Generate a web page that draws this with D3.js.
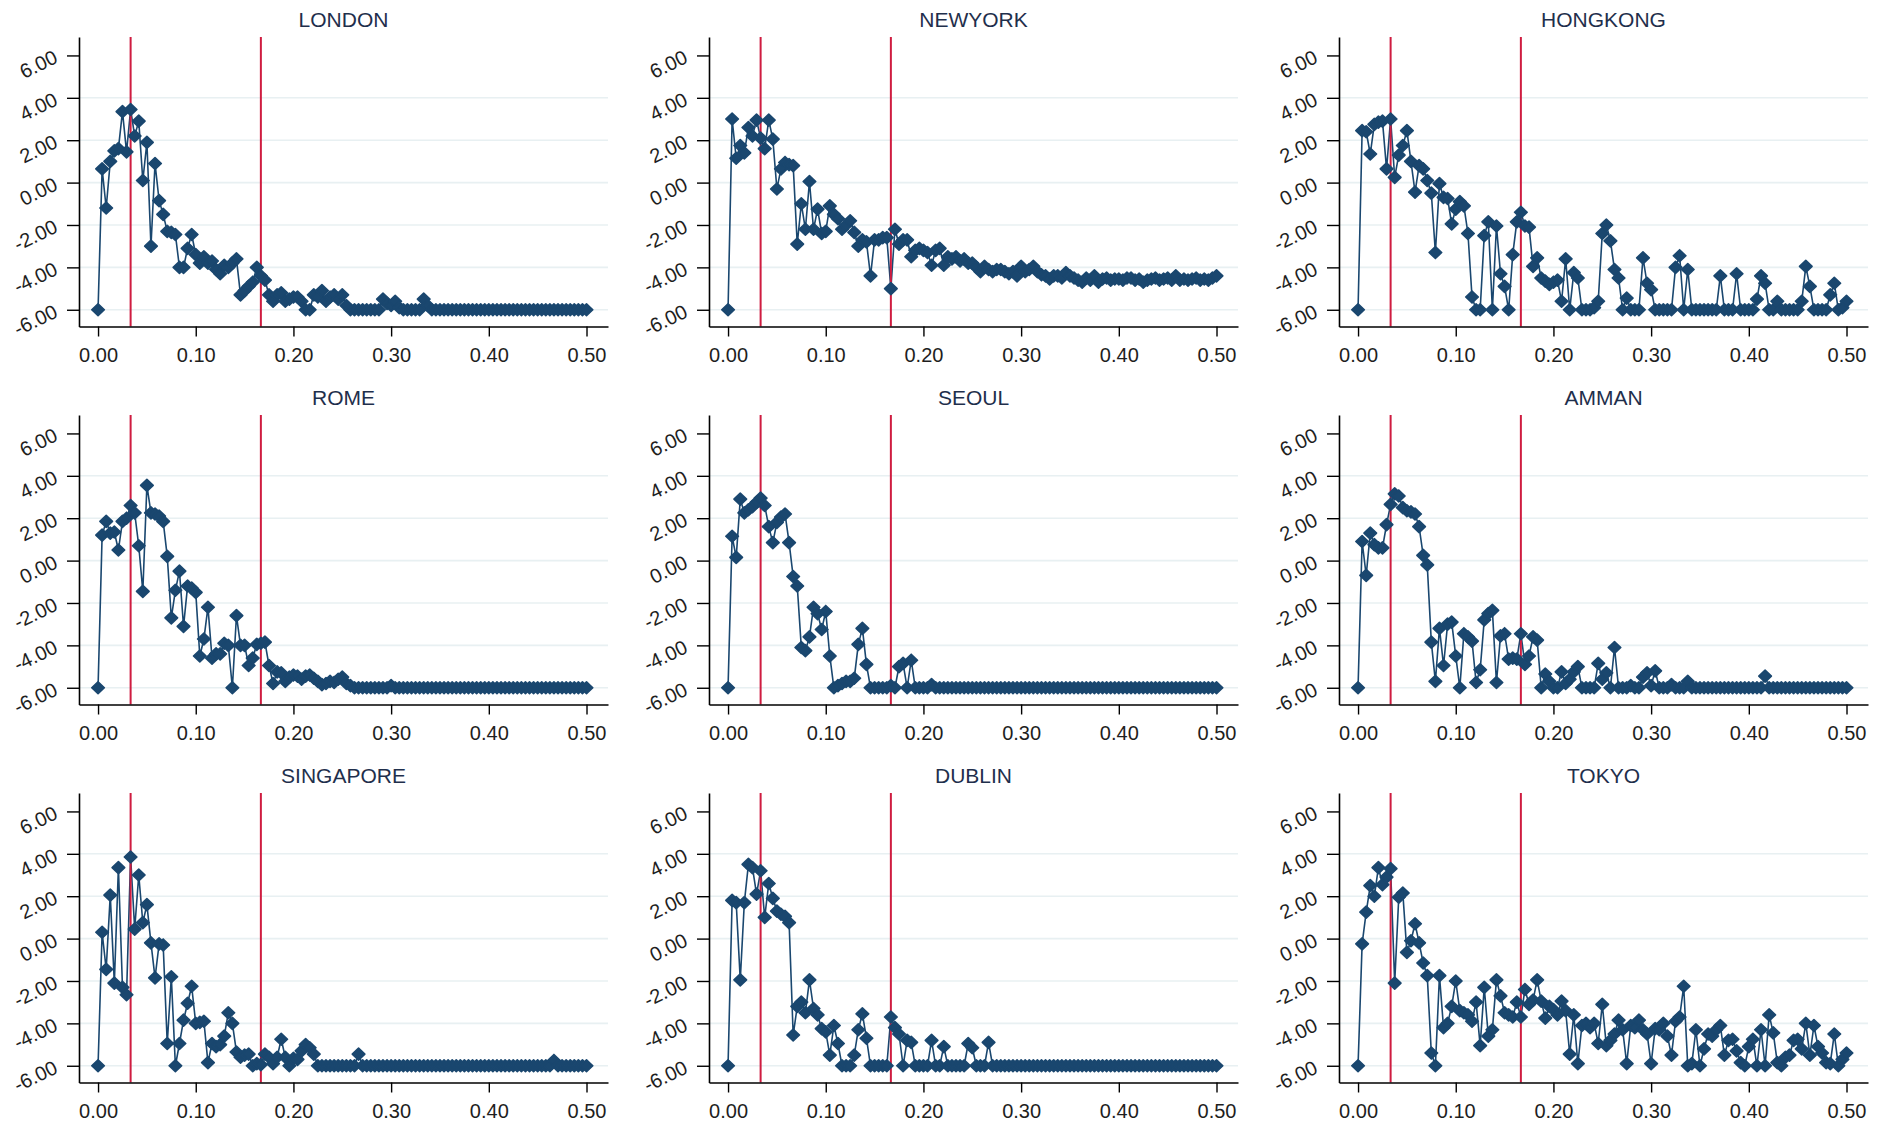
<!DOCTYPE html>
<html>
<head>
<meta charset="utf-8">
<script src="https://cdn.jsdelivr.net/npm/d3@7"></script>
<style>
body { margin: 0; background: #fff; }
svg { display: block; font-family: "Liberation Sans", Arial, sans-serif; }
</style>
</head>
<body>
<svg id="chart" width="1888" height="1124"></svg>
<script>
// frequencies k/240, k = 0..120
var freq = d3.range(121).map(k => k / 240);

var cities = ['LONDON', 'NEWYORK', 'HONGKONG', 'ROME', 'SEOUL', 'AMMAN', 'SINGAPORE', 'DUBLIN', 'TOKYO'];

var london = [-6, 0.65, -1.2, 1.0, 1.5, 1.6, 3.35, 1.45, 3.45, 2.2,
  2.9, 0.1, 1.9, -3.0, 0.9, -0.85, -1.5, -2.3, -2.35, -2.45,
  -4.0, -4.0, -3.1, -2.45, -3.4, -3.8, -3.5, -3.8, -3.7, -4.1,
  -4.3, -3.9, -4.0, -3.8, -3.6, -5.3, -5.1, -4.9, -4.7, -4.0,
  -4.4, -4.6, -5.3, -5.6, -5.3, -5.2, -5.6, -5.5, -5.4, -5.4,
  -5.6, -6, -6, -5.3, -5.4, -5.1, -5.6, -5.4, -5.3, -5.5,
  -5.3, -5.8, -6, -6, -6, -6, -6, -6, -6, -6,
  -5.5, -5.7, -5.8, -5.6, -5.9, -6, -6, -6, -6, -6,
  -5.5, -5.8, -6, -6, -6, -6, -6, -6, -6, -6,
  -6, -6, -6, -6, -6, -6, -6, -6, -6, -6,
  -6, -6, -6, -6, -6, -6, -6, -6, -6, -6,
  -6, -6, -6, -6, -6, -6, -6, -6, -6, -6, -6];

var newyork = [-6, 3.0, 1.15, 1.75, 1.4, 2.6, 2.2, 2.95, 2.1, 1.6,
  2.95, 2.05, -0.3, 0.65, 0.95, 0.85, 0.8, -2.9, -1.0, -2.2,
  0.05, -2.2, -1.25, -2.4, -2.3, -1.1, -1.5, -1.7, -2.2, -2.0,
  -1.8, -2.35, -3.0, -2.7, -2.8, -4.4, -2.7, -2.7, -2.6, -2.6,
  -5.0, -2.2, -2.9, -2.7, -2.7, -3.5, -3.2, -3.1, -3.2, -3.3,
  -3.9, -3.2, -3.1, -3.9, -3.5, -3.6, -3.5, -3.7, -3.6, -3.8,
  -3.8, -4.0, -4.2, -3.95, -4.1, -4.2, -4.1, -4.1, -4.2, -4.3,
  -4.2, -4.4, -3.95, -4.2, -4.1, -3.95, -4.2, -4.35, -4.4, -4.55,
  -4.4, -4.4, -4.5, -4.25, -4.4, -4.5, -4.6, -4.7, -4.5, -4.6,
  -4.4, -4.7, -4.55, -4.5, -4.6, -4.55, -4.55, -4.6, -4.5, -4.5,
  -4.6, -4.55, -4.7, -4.6, -4.55, -4.5, -4.6, -4.55, -4.5, -4.6,
  -4.4, -4.6, -4.55, -4.6, -4.55, -4.5, -4.6, -4.55, -4.6, -4.5, -4.4];

var hongkong = [-6, 2.45, 2.4, 1.35, 2.75, 2.85, 2.9, 0.65, 3.0, 0.25,
  1.3, 1.75, 2.45, 1.0, -0.45, 0.8, 0.65, 0.1, -0.5, -3.3,
  -0.05, -0.7, -0.75, -1.95, -1.25, -0.9, -1.1, -2.4, -5.4, -6,
  -6, -2.5, -1.85, -6, -2.05, -4.3, -4.9, -6, -3.4, -1.85,
  -1.4, -2.05, -2.1, -3.95, -3.55, -4.5, -4.65, -4.8, -4.7, -4.6,
  -5.6, -3.6, -6, -4.25, -4.5, -6, -6, -6, -5.9, -5.6,
  -2.4, -2.0, -2.75, -4.1, -4.5, -6, -5.45, -6, -6, -6,
  -3.55, -4.75, -5.05, -6, -6, -6, -6, -6, -4.0, -3.45,
  -6, -4.1, -6, -6, -6, -6, -6, -6, -6, -4.4,
  -6, -6, -6, -4.3, -6, -6, -6, -6, -5.5, -4.4,
  -4.75, -6, -6, -5.6, -6, -6, -6, -6, -6, -5.6,
  -3.95, -4.9, -6, -6, -6, -6, -5.3, -4.75, -6, -5.9, -5.6];

var rome = [-6, 1.2, 1.85, 1.3, 1.35, 0.5, 1.85, 2.0, 2.6, 2.25,
  0.7, -1.45, 3.55, 2.25, 2.2, 2.1, 1.85, 0.2, -2.7, -1.4,
  -0.5, -3.1, -1.2, -1.3, -1.5, -4.5, -3.7, -2.2, -4.6, -4.4,
  -4.4, -3.9, -4.0, -6, -2.6, -4.0, -4.0, -4.95, -4.6, -3.95,
  -3.9, -3.85, -4.95, -5.8, -5.25, -5.3, -5.7, -5.5, -5.4, -5.45,
  -5.6, -5.45, -5.4, -5.55, -5.7, -5.85, -5.8, -5.7, -5.75, -5.6,
  -5.5, -5.8, -5.9, -6, -6, -6, -6, -6, -6, -6,
  -6, -6, -5.9, -6, -6, -6, -6, -6, -6, -6,
  -6, -6, -6, -6, -6, -6, -6, -6, -6, -6,
  -6, -6, -6, -6, -6, -6, -6, -6, -6, -6,
  -6, -6, -6, -6, -6, -6, -6, -6, -6, -6,
  -6, -6, -6, -6, -6, -6, -6, -6, -6, -6, -6];

var seoul = [-6, 1.15, 0.15, 2.9, 2.25, 2.4, 2.55, 2.75, 2.95, 2.6,
  1.6, 0.85, 1.8, 2.05, 2.2, 0.85, -0.75, -1.2, -4.1, -4.25,
  -3.6, -2.2, -2.5, -3.25, -2.4, -4.5, -6, -5.9, -5.8, -5.7,
  -5.7, -5.55, -3.95, -3.2, -4.9, -6, -6, -6, -6, -6,
  -5.9, -6, -5.0, -4.85, -6, -4.7, -6, -6, -6, -6,
  -5.85, -6, -6, -6, -6, -6, -6, -6, -6, -6,
  -6, -6, -6, -6, -6, -6, -6, -6, -6, -6,
  -6, -6, -6, -6, -6, -6, -6, -6, -6, -6,
  -6, -6, -6, -6, -6, -6, -6, -6, -6, -6,
  -6, -6, -6, -6, -6, -6, -6, -6, -6, -6,
  -6, -6, -6, -6, -6, -6, -6, -6, -6, -6,
  -6, -6, -6, -6, -6, -6, -6, -6, -6, -6, -6];

var amman = [-6, 0.9, -0.7, 1.3, 0.75, 0.6, 0.6, 1.7, 2.65, 3.15,
  3.05, 2.5, 2.35, 2.3, 2.2, 1.6, 0.25, -0.2, -3.85, -5.7,
  -3.2, -4.95, -3.0, -2.9, -4.5, -6, -3.45, -3.6, -3.8, -5.75,
  -5.15, -2.8, -2.5, -2.35, -5.75, -3.55, -3.45, -4.65, -4.6, -4.65,
  -3.45, -4.9, -4.5, -3.6, -3.75, -6, -5.35, -5.7, -6, -6,
  -5.25, -5.8, -5.6, -5.25, -5.0, -6, -6, -6, -6, -4.85,
  -5.6, -5.3, -6, -4.1, -6, -6, -6, -5.9, -6, -6,
  -5.5, -5.3, -5.9, -5.2, -6, -6, -6, -5.85, -6, -6,
  -6, -5.7, -6, -6, -6, -6, -6, -6, -6, -6,
  -6, -6, -6, -6, -6, -6, -6, -6, -6, -6,
  -5.45, -6, -6, -6, -6, -6, -6, -6, -6, -6,
  -6, -6, -6, -6, -6, -6, -6, -6, -6, -6, -6];

var singapore = [-6, 0.3, -1.45, 2.05, -2.1, 3.35, -2.3, -2.65, 3.85, 0.45,
  3.0, 0.75, 1.6, -0.2, -1.85, -0.25, -0.3, -4.95, -1.8, -6,
  -4.95, -3.85, -3.05, -2.25, -4.0, -3.95, -3.9, -5.85, -4.95, -5.1,
  -5.0, -4.6, -3.5, -4.0, -5.35, -5.6, -5.5, -5.45, -6, -5.9,
  -5.95, -5.45, -5.6, -5.9, -5.6, -4.75, -5.6, -6, -5.65, -5.7,
  -5.3, -5.0, -5.15, -5.45, -6, -6, -6, -6, -6, -6,
  -6, -6, -6, -6, -5.45, -6, -6, -6, -6, -6,
  -6, -6, -6, -6, -6, -6, -6, -6, -6, -6,
  -6, -6, -6, -6, -6, -6, -6, -6, -6, -6,
  -6, -6, -6, -6, -6, -6, -6, -6, -6, -6,
  -6, -6, -6, -6, -6, -6, -6, -6, -6, -6,
  -6, -6, -5.75, -6, -6, -6, -6, -6, -6, -6, -6];

var dublin = [-6, 1.8, 1.7, -1.95, 1.7, 3.5, 3.35, 2.1, 3.2, 1.0,
  2.6, 1.9, 1.3, 1.15, 1.05, 0.75, -4.55, -3.2, -3.0, -3.5,
  -1.95, -3.3, -3.6, -4.25, -4.4, -5.5, -4.1, -4.95, -6, -6,
  -6, -5.5, -4.3, -3.55, -4.7, -6, -6, -6, -6, -6,
  -3.7, -4.2, -4.5, -6, -4.8, -4.9, -6, -6, -6, -6,
  -4.8, -6, -6, -5.1, -6, -6, -6, -6, -6, -4.95,
  -5.15, -6, -6, -6, -4.9, -6, -6, -6, -6, -6,
  -6, -6, -6, -6, -6, -6, -6, -6, -6, -6,
  -6, -6, -6, -6, -6, -6, -6, -6, -6, -6,
  -6, -6, -6, -6, -6, -6, -6, -6, -6, -6,
  -6, -6, -6, -6, -6, -6, -6, -6, -6, -6,
  -6, -6, -6, -6, -6, -6, -6, -6, -6, -6, -6];

var tokyo = [-6, -0.25, 1.25, 2.5, 2.0, 3.35, 2.55, 2.9, 3.3, -2.1,
  1.95, 2.15, -0.65, -0.1, 0.7, -0.2, -1.15, -1.75, -5.4, -6,
  -1.75, -4.2, -4.0, -3.2, -2.0, -3.4, -3.5, -3.6, -3.9, -3.0,
  -5.05, -2.3, -4.6, -4.3, -1.95, -2.7, -3.5, -3.6, -3.7, -3.0,
  -3.7, -2.4, -3.1, -2.9, -1.95, -2.95, -3.75, -3.2, -3.35, -3.6,
  -2.95, -3.4, -5.45, -3.6, -5.9, -4.1, -4.0, -4.2, -4.0, -4.95,
  -3.1, -5.05, -4.8, -4.5, -3.85, -4.3, -5.9, -4.1, -4.2, -3.85,
  -4.3, -4.5, -5.9, -4.25, -4.3, -4.0, -4.6, -5.5, -3.9, -3.7,
  -2.25, -6, -5.9, -4.3, -6, -5.2, -4.5, -4.6, -4.3, -4.1,
  -5.5, -4.8, -4.75, -5.3, -5.85, -6, -5.1, -4.75, -6, -4.3,
  -6, -3.6, -4.45, -5.85, -6, -5.6, -5.5, -4.8, -4.75, -5.2,
  -4.0, -5.5, -4.1, -5.1, -5.4, -5.85, -5.9, -4.5, -6, -5.7, -5.4];

var series = [london, newyork, hongkong, rome, seoul, amman, singapore, dublin, tokyo];

var yTicks = [-6, -4, -2, 0, 2, 4, 6];
var gridVals = [-6, -4, -2, 0, 2, 4];
var xTicks = [0, 0.1, 0.2, 0.3, 0.4, 0.5];
var cycleLines = [1 / 30, 1 / 6];

var navy = '#1a476f';
var svg = d3.select('#chart');
var diamond = 'M0,-6L6.3,0L0,6L-6.3,0Z';

cities.forEach((name, i) => {
  var col = i % 3, row = Math.floor(i / 3);
  var x0 = 98 + 630 * col;
  var top = 37 + 378 * row;
  var bottom = top + 289.5;

  var x = d3.scaleLinear().domain([-0.0195, 0.522]).range([x0 - 19, x0 + 510]);
  var y = d3.scaleLinear().domain([-6.79, 6.87]).range([bottom, top]);
  var left = x.range()[0], right = x.range()[1];
  var vals = series[i];

  var g = svg.append('g');

  // gridlines
  g.selectAll('line.grid').data(gridVals).enter().append('line')
    .attr('x1', left).attr('x2', right)
    .attr('y1', d => y(d)).attr('y2', d => y(d))
    .attr('stroke', '#e8f0f2').attr('stroke-width', 1.6);

  // connecting line
  g.append('path')
    .datum(vals)
    .attr('fill', 'none')
    .attr('stroke', navy)
    .attr('stroke-width', 1.6)
    .attr('d', d3.line().x((d, k) => x(freq[k])).y(d => y(d)));

  // xlines at 30 and 6 periods
  g.selectAll('line.cyc').data(cycleLines).enter().append('line')
    .attr('x1', d => x(d)).attr('x2', d => x(d))
    .attr('y1', top).attr('y2', bottom)
    .attr('stroke', '#cf1c40').attr('stroke-width', 2);

  // markers
  g.selectAll('path.pt').data(vals).enter().append('path')
    .attr('d', diamond)
    .attr('transform', (d, k) => 'translate(' + x(freq[k]) + ',' + y(d) + ')')
    .attr('fill', navy)
    .attr('stroke', navy)
    .attr('stroke-width', 1.6)
    .attr('stroke-linejoin', 'round');

  // y axis
  var ya = g.append('g')
    .attr('transform', 'translate(' + left + ',0)')
    .call(d3.axisLeft(y).tickValues(yTicks).tickSize(12).tickSizeOuter(0)
      .tickFormat(d => d.toFixed(2)));
  ya.select('.domain').attr('stroke-width', 1.6);
  ya.selectAll('.tick line').attr('stroke-width', 1.4);
  ya.selectAll('.tick text')
    .attr('font-size', 20).attr('font-family', '"Liberation Sans", Arial, sans-serif')
    .attr('fill', '#1e1e1e')
    .attr('x', -20).attr('y', 6).attr('dy', 0)
    .attr('transform', 'rotate(-26,-20,6)');

  // x axis
  var xa = g.append('g')
    .attr('transform', 'translate(0,' + bottom + ')')
    .call(d3.axisBottom(x).tickValues(xTicks).tickSize(10).tickSizeOuter(0)
      .tickFormat(d => d.toFixed(2)));
  xa.select('.domain').attr('stroke-width', 1.6);
  xa.selectAll('.tick line').attr('stroke-width', 1.4);
  xa.selectAll('.tick text')
    .attr('font-size', 20).attr('font-family', '"Liberation Sans", Arial, sans-serif')
    .attr('fill', '#1e1e1e')
    .attr('y', 35).attr('dy', 0);

  // title
  g.append('text')
    .attr('x', (left + right) / 2)
    .attr('y', top - 10)
    .attr('text-anchor', 'middle')
    .attr('font-size', 21)
    .attr('fill', '#1f2f4c')
    .text(name);
});
</script>
</body>
</html>
